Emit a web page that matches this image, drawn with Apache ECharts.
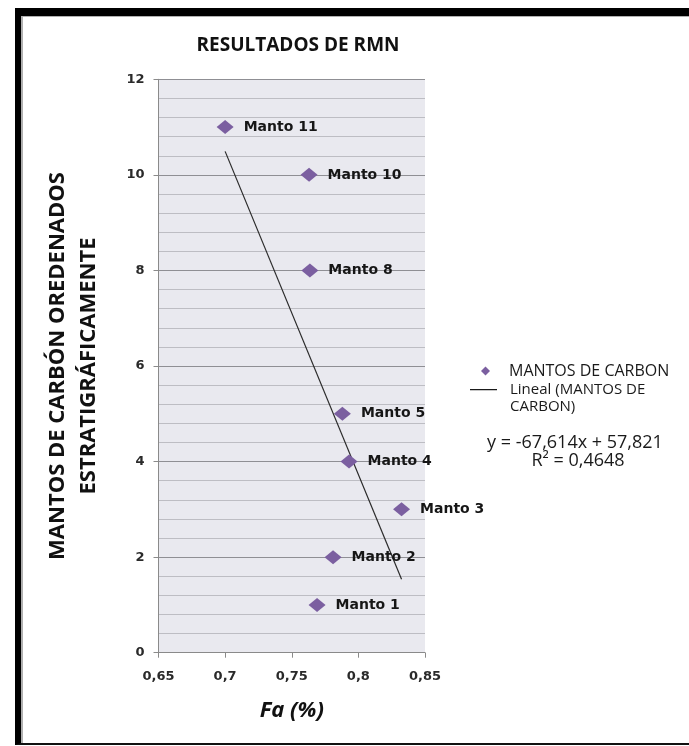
<!DOCTYPE html>
<html>
<head>
<meta charset="utf-8">
<script src="https://cdn.jsdelivr.net/npm/echarts@6/dist/echarts.min.js"></script>
<style>
  html, body { margin: 0; padding: 0; background: #fff; }
  #wrap { position: relative; width: 689px; height: 746px; overflow: hidden; background: #fff; }
  #frame { position: absolute; left: 15px; top: 8px; width: 700px; height: 737px;
           border-top: 8px solid #000; border-left: 6px solid #000; border-bottom: 2px solid #111;
           box-sizing: border-box; }
  #inner { position: absolute; left: 21px; top: 16px; width: 700px; height: 727px;
           border-top: 1px solid #b0b0b0; border-left: 2px solid #b0b0b0; box-sizing: border-box; }
  #chart { position: absolute; left: 0; top: 0; width: 689px; height: 746px; }
</style>
</head>
<body>
<div id="wrap">
  <div id="frame"></div>
  <div id="inner"></div>
  <div id="chart"></div>
</div>
<script>
// Fa (%) per coal seam and its stratigraphic order
const seamNames = ['Manto 1', 'Manto 2', 'Manto 3', 'Manto 4', 'Manto 5', 'Manto 8', 'Manto 10', 'Manto 11'];
const faValues = [0.769, 0.781, 0.8324, 0.793, 0.788, 0.7636, 0.763, 0.700];
const seamOrder = [1, 2, 3, 4, 5, 8, 10, 11];

// linear trend fitted to the seams, as reported on the chart
const trendSlope = -67.614;
const trendIntercept = 57.821;
const trendR2 = 0.4648;

const xTicks = { min: 0.65, max: 0.85, step: 0.05 };
const yTicks = { min: 0, max: 12, step: 2 };

const seriesName = 'MANTOS DE CARBON';
const trendName = 'Lineal (MANTOS DE\nCARBON)';

const points = faValues.map((x, i) => ({ value: [x, seamOrder[i]], name: seamNames[i] }));
const xLo = Math.min.apply(null, faValues);
const xHi = Math.max.apply(null, faValues);
const trendPoints = [xLo, xHi].map(x => [x, trendSlope * x + trendIntercept]);

const fmt = (v, d) => v.toFixed(d).replace('.', ',');
const eqText = 'y = ' + fmt(trendSlope, 3) + 'x + ' + fmt(trendIntercept, 3);
const r2Text = 'R² = ' + fmt(trendR2, 4);

// legend stroke for the trend line, sitting level with the first text line
const trendIcon = 'path://M0,8H27V9.2H0Z M0,0H0.01V0.01H0Z M0,34H0.01V34.01H0Z';

const chart = echarts.init(document.getElementById('chart'), null, { renderer: 'canvas' });
chart.setOption({
  animation: false,
  backgroundColor: 'transparent',
  title: {
    text: 'RESULTADOS DE RMN',
    left: 293, top: 31, textAlign: 'center',
    textStyle: { fontFamily: 'Open Sans', fontWeight: 'bold', fontSize: 19, color: '#111' }
  },
  grid: {
    left: 158.5, right: 264, top: 79.3, bottom: 93.3,
    show: true, backgroundColor: '#e9e9ef', borderWidth: 0
  },
  xAxis: {
    type: 'value', min: xTicks.min, max: xTicks.max, interval: xTicks.step,
    name: 'Fa (%)', nameLocation: 'middle', nameGap: 47,
    nameTextStyle: { fontFamily: 'Open Sans', fontWeight: 'bold', fontStyle: 'italic', fontSize: 22, color: '#111' },
    axisLine: { show: true, lineStyle: { color: '#8a8a8a', width: 1 } },
    axisTick: { show: true, length: 5, lineStyle: { color: '#8a8a8a' } },
    axisLabel: {
      margin: 17, fontFamily: 'DejaVu Sans', fontWeight: 'bold', fontSize: 13, color: '#2a2a2a',
      formatter: v => String(Math.round(v * 100) / 100).replace('.', ',')
    },
    splitLine: { show: false }
  },
  yAxis: {
    type: 'value', min: yTicks.min, max: yTicks.max, interval: yTicks.step,
    name: 'MANTOS DE CARBÓN OREDENADOS\nESTRATIGRÁFICAMENTE',
    nameLocation: 'middle', nameGap: 54, nameRotate: 90,
    nameTextStyle: { fontFamily: 'Open Sans', fontWeight: 'bold', fontSize: 22, color: '#111', lineHeight: 31 },
    axisLine: { show: true, lineStyle: { color: '#8a8a8a', width: 1 } },
    axisTick: { show: true, length: 5, lineStyle: { color: '#8a8a8a' } },
    axisLabel: { margin: 14, fontFamily: 'DejaVu Sans', fontWeight: 'bold', fontSize: 13, color: '#2a2a2a' },
    splitLine: { show: true, lineStyle: { color: '#8f8f94', width: 1 } },
    minorTick: { show: false, splitNumber: 5 },
    minorSplitLine: { show: true, lineStyle: { color: '#bdbdc3', width: 1 } }
  },
  legend: [
    {
      data: [seriesName], orient: 'vertical', left: 476, top: 358,
      icon: 'diamond', itemWidth: 9, itemHeight: 9, itemGap: 10,
      textStyle: { fontFamily: 'Open Sans', fontSize: 16, color: '#1a1a1a', padding: [0, 0, 0, 14] }
    },
    {
      data: [{ name: trendName, icon: trendIcon }], orient: 'vertical', left: 465, top: 376,
      itemWidth: 27, itemHeight: 34, symbolKeepAspect: false,
      itemStyle: { color: '#1a1a1a' },
      textStyle: { fontFamily: 'Open Sans', fontSize: 15, color: '#1a1a1a', lineHeight: 17, padding: [0, 0, 0, 8] }
    }
  ],
  graphic: [
    {
      type: 'text', x: 575, y: 443,
      style: { text: eqText, font: '18px "Open Sans"', fill: '#1a1a1a', align: 'center', verticalAlign: 'middle' }
    },
    {
      type: 'text', x: 578, y: 461,
      style: { text: r2Text, font: '18px "Open Sans"', fill: '#1a1a1a', align: 'center', verticalAlign: 'middle' }
    }
  ],
  series: [
    {
      name: seriesName, type: 'scatter', data: points,
      symbol: 'diamond', symbolSize: [17, 14],
      itemStyle: { color: '#7b5fa0', opacity: 1 },
      label: {
        show: true, position: 'right', distance: 10,
        formatter: p => p.name,
        fontFamily: 'DejaVu Sans', fontWeight: 'bold', fontSize: 14, color: '#161616'
      },
      z: 3
    },
    {
      name: trendName, type: 'line', data: trendPoints,
      symbol: 'none', lineStyle: { color: '#2a2a2a', width: 1.2 },
      itemStyle: { color: '#2a2a2a' }, z: 2
    }
  ]
});
</script>
</body>
</html>
